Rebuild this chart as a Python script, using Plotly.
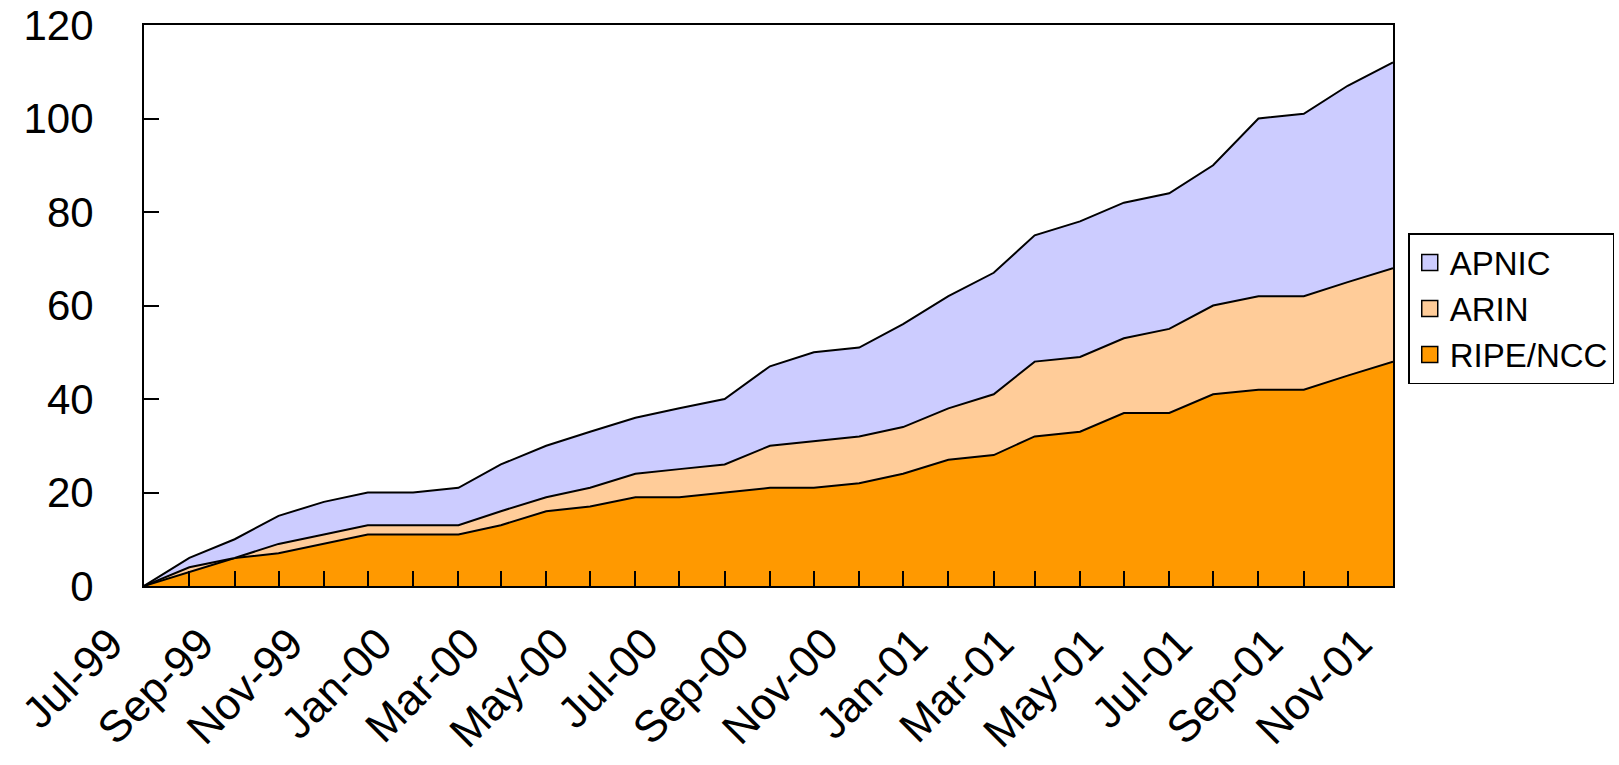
import plotly.graph_objects as go

months = [
    "1999-07-01", "1999-08-01", "1999-09-01", "1999-10-01", "1999-11-01", "1999-12-01",
    "2000-01-01", "2000-02-01", "2000-03-01", "2000-04-01", "2000-05-01", "2000-06-01",
    "2000-07-01", "2000-08-01", "2000-09-01", "2000-10-01", "2000-11-01", "2000-12-01",
    "2001-01-01", "2001-02-01", "2001-03-01", "2001-04-01", "2001-05-01", "2001-06-01",
    "2001-07-01", "2001-08-01", "2001-09-01", "2001-10-01", "2001-11-01",
]

ripe_ncc = [0, 3, 6, 7, 9, 11, 11, 11, 13, 16, 17, 19, 19, 20, 21, 21, 22, 24,
            27, 28, 32, 33, 37, 37, 41, 42, 42, 45, 48]
arin = [0, 1, 0, 2, 2, 2, 2, 2, 3, 3, 4, 5, 6, 6, 9, 10, 10, 10,
        11, 13, 16, 16, 16, 18, 19, 20, 20, 20, 20]
apnic = [0, 2, 4, 6, 7, 7, 7, 8, 10, 11, 12, 12, 13, 14, 17, 19, 19, 22,
         24, 26, 27, 29, 29, 29, 30, 38, 39, 42, 44]

series = [
    ("RIPE/NCC", ripe_ncc, "#FF9900"),
    ("ARIN", arin, "#FFCC99"),
    ("APNIC", apnic, "#CCCCFF"),
]

FONT = "Liberation Sans, Arial, sans-serif"

fig = go.Figure()
for name, vals, color in series:
    fig.add_trace(go.Scatter(
        x=months, y=vals, name=name, mode="lines",
        stackgroup="one", fillcolor=color,
        line=dict(color="black", width=2),
        showlegend=False, legendgroup=name,
    ))
# legend entries drawn as square swatches
for name, vals, color in series:
    fig.add_trace(go.Scatter(
        x=[None], y=[None], name=name, mode="markers", legendgroup=name,
        marker=dict(symbol="square", size=22, color=color,
                    line=dict(color="black", width=1.5)),
        showlegend=True,
    ))

fig.update_layout(
    width=1619, height=765,
    paper_bgcolor="white", plot_bgcolor="white",
    margin=dict(l=144, r=226, t=25, b=179, autoexpand=False),
    font=dict(family=FONT, color="black", size=42),
    showlegend=True,
    legend=dict(
        x=1.0122, y=0.629, xanchor="left", yanchor="top",
        traceorder="reversed",
        font=dict(size=33, family=FONT, color="black"),
        bgcolor="white", bordercolor="black", borderwidth=1.5,
        tracegroupgap=0, itemsizing="trace",
    ),
)

fig.update_xaxes(
    type="date",
    range=["1999-07-01", "2001-11-01"],
    tick0="1999-07-01", dtick="M2", tickformat="%b-%y",
    tickangle=-45,
    ticks="inside", ticklen=15, tickwidth=1.5, tickcolor="black",
    minor=dict(dtick="M1", ticks="inside", ticklen=15, tickwidth=1.5, tickcolor="black", showgrid=False),
    showline=True, linecolor="black", linewidth=2, mirror=True,
    showgrid=False, zeroline=False, automargin=False,
    tickfont=dict(size=44, family=FONT, color="black"),
    ticklabelstandoff=12, ticklabelshift=-34,
    ticklabeloverflow="allow",
)

fig.update_yaxes(
    range=[0, 120], dtick=20, tick0=0,
    ticks="inside", ticklen=15, tickwidth=1.5, tickcolor="black",
    showline=True, linecolor="black", linewidth=2, mirror=True,
    showgrid=False, zeroline=False, automargin=False,
    tickfont=dict(size=42, family=FONT, color="black"),
    ticklabelstandoff=40,
    ticklabeloverflow="allow",
)

# remove the default page margin so the figure fills the window exactly
fig.write_html(
    "out.html",
    config={"displayModeBar": False},
    post_script="document.body.style.margin='0';",
)
